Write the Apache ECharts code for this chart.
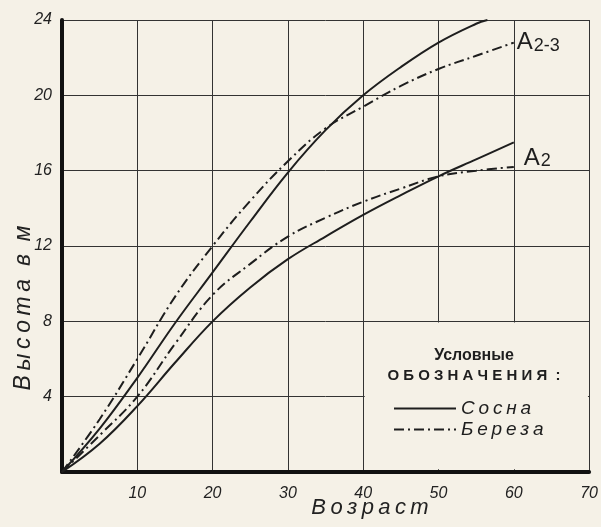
<!DOCTYPE html>
<html>
<head>
<meta charset="utf-8">
<script src="https://cdn.jsdelivr.net/npm/echarts@6/dist/echarts.min.js"></script>
<style>
  html, body { margin: 0; padding: 0; background: #f5f1e7; }
  #chart { width: 601px; height: 527px; }
</style>
</head>
<body>
<div id="chart"></div>
<script>
// Ages (years) and heights (m)
const ages = [0, 5, 10, 15, 20, 25, 30, 35, 40, 45, 50, 55, 60];
const pineA23Ages = [0, 5, 10, 15, 20, 25, 30, 35, 40, 45, 50, 55, 56.5];
const pineA23 = [0, 2.3, 5.0, 7.9, 10.6, 13.3, 15.9, 18.15, 20.0, 21.5, 22.8, 23.8, 24.0];
const birchA23 = [0, 2.8, 6.0, 9.3, 12.0, 14.4, 16.5, 18.25, 19.4, 20.5, 21.4, 22.1, 22.8];
const pineA2 = [0, 1.5, 3.5, 5.8, 8.0, 9.8, 11.3, 12.5, 13.65, 14.7, 15.7, 16.6, 17.5];
const birchA2 = [0, 1.95, 4.0, 6.8, 9.4, 11.05, 12.5, 13.5, 14.35, 15.05, 15.7, 16.0, 16.2];
const xTicks = [0, 10, 20, 30, 40, 50, 60, 70];
const yTicks = [0, 4, 8, 12, 16, 20, 24];
const legendNames = ['Сосна', 'Береза'];
const curveLabels = ['{a|A}{s|2-3}', '{a|A}{s|2}'];
const legendBox = [[40, 8], [70, 0]];

const BG = '#f5f1e7';
const INK = '#1e1e1e';
const FONT = 'Liberation Sans';
const DASHDOT = [10, 4, 2, 4];

function pairs(xs, ys) { return xs.map((x, i) => [x, ys[i]]); }
const spaced = s => s.split('').join('\u2009');

const chart = echarts.init(document.getElementById('chart'), null, { renderer: 'canvas' });

const baseLine = (name, data, dashed) => ({
  name: name,
  type: 'line',
  data: data,
  symbol: 'none',
  smooth: 0.4,
  silent: true,
  color: INK,
  lineStyle: { color: INK, width: 2, type: dashed ? DASHDOT : 'solid' },
  emphasis: { disabled: true },
  z: 3
});

const labelRich = {
  a: { fontSize: 24, lineHeight: 24, fontFamily: FONT, color: INK, verticalAlign: 'top' },
  s: { fontSize: 18, lineHeight: 18, fontFamily: FONT, color: INK, verticalAlign: 'bottom', padding: [8, 0, 0, 1] }
};

const sPineA23 = baseLine(legendNames[0], pairs(pineA23Ages, pineA23), false);
const sBirchA23 = baseLine(legendNames[1], pairs(ages, birchA23), true);
sBirchA23.endLabel = {
  show: true, formatter: curveLabels[0], distance: 3, offset: [0, 0], rich: labelRich
};
const sPineA2 = baseLine(legendNames[0], pairs(ages, pineA2), false);
const sBirchA2 = baseLine(legendNames[1], pairs(ages, birchA2), true);
sBirchA2.endLabel = {
  show: true, formatter: curveLabels[1], distance: 3, offset: [7, -9], rich: labelRich
};
// blank area behind the legend (grid lines hidden there)
sPineA2.markArea = {
  silent: true,
  itemStyle: { color: BG, opacity: 1 },
  label: { show: false },
  emphasis: { disabled: true },
  data: [[{ coord: [legendBox[0][0] + 0.2, legendBox[0][1] - 0.06] }, { coord: [legendBox[1][0] - 0.15, legendBox[1][1] + 0.15] }]]
};

const tickFmt = v => (v === 0 ? '' : String(v));

chart.setOption({
  backgroundColor: BG,
  animation: false,
  title: {
    text: 'Условные',
    subtext: 'О Б О З Н А Ч Е Н И Я  :',
    left: 474, top: 348, textAlign: 'center', padding: 0, itemGap: 4,
    textStyle: { fontFamily: FONT, fontSize: 16, fontWeight: 'bold', color: INK },
    subtextStyle: { fontFamily: FONT, fontSize: 15, fontWeight: 'bold', color: INK }
  },
  legend: {
    data: legendNames,
    orient: 'vertical',
    left: 393, top: 399,
    padding: 0,
    itemWidth: 62, itemHeight: 20, itemGap: 2, itemTextGap: 10,
    selectedMode: false,
    itemStyle: { opacity: 0 },
    formatter: name => spaced(name),
    textStyle: { fontFamily: FONT, fontSize: 19, fontStyle: 'italic', color: INK }
  },
  grid: { left: 62, right: 8, top: 20, bottom: 55, containLabel: false },
  xAxis: {
    type: 'value', min: xTicks[0], max: xTicks[xTicks.length - 1], interval: 10,
    axisLine: { show: true, lineStyle: { color: '#111', width: 4 } },
    axisTick: { show: false },
    splitLine: { show: true, lineStyle: { color: '#333', width: 1 } },
    axisLabel: { margin: 14, fontSize: 16, fontStyle: 'italic', fontFamily: FONT, color: '#222', formatter: tickFmt }
  },
  yAxis: {
    type: 'value', min: yTicks[0], max: yTicks[yTicks.length - 1], interval: 4,
    axisLine: { show: true, lineStyle: { color: '#111', width: 4 } },
    axisTick: { show: false },
    splitLine: { show: true, lineStyle: { color: '#333', width: 1 } },
    axisLabel: { margin: 10, fontSize: 16, fontStyle: 'italic', fontFamily: FONT, color: '#222', formatter: tickFmt }
  },
  graphic: [
    {
      type: 'text', x: 24, y: 308, rotation: Math.PI / 2,
      style: { text: spaced('Высота') + '  ' + 'в' + '  ' + 'м', fontFamily: FONT, fontSize: 23, fontStyle: 'italic',
               fill: '#222', textAlign: 'center', textVerticalAlign: 'middle' }
    },
    {
      type: 'text', x: 370, y: 508,
      style: { text: spaced('Возраст'), fontFamily: FONT, fontSize: 22, fontStyle: 'italic',
               fill: '#222', textAlign: 'center', textVerticalAlign: 'middle' }
    }
  ],
  series: [sPineA23, sBirchA23, sPineA2, sBirchA2]
});
</script>
</body>
</html>
